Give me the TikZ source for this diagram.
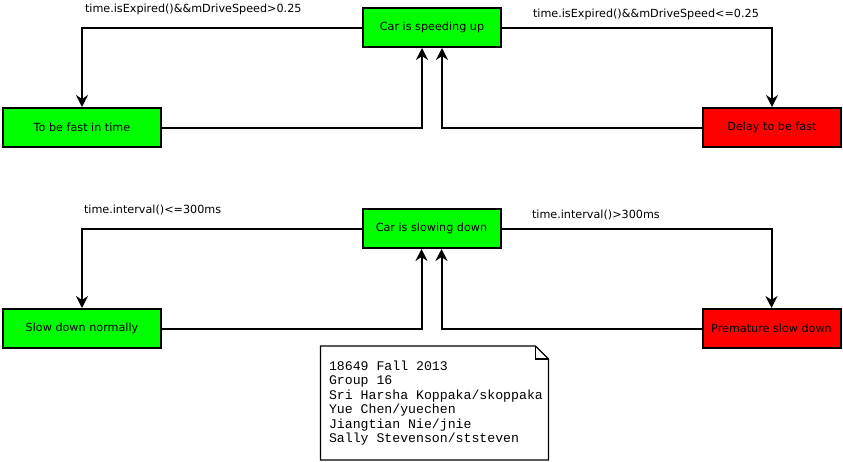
\documentclass[tikz,border=0pt]{standalone}
\usepackage{fontspec}
\setmainfont{DejaVu Sans}
\setmonofont{Liberation Mono}
\newcommand\blank{\hbox to 0.6em{}}
\usetikzlibrary{arrows.meta}
\begin{document}
\begin{tikzpicture}[
  x=1pt, y=-1pt,
  state/.style={draw, line width=2pt, minimum width=138pt, minimum height=39pt,
    inner sep=0pt, font=\fontsize{11.2}{13}\selectfont},
  go/.style={state, fill=green},
  wide/.style={minimum width=158pt},
  stop/.style={state, fill=red},
  lbl/.style={anchor=west, inner sep=0pt, font=\fontsize{11.2}{13}\selectfont},
  arr/.style={-{Stealth[length=12pt, width=12pt, inset=4pt]}},
  line width=2pt, line join=miter]
\useasboundingbox (0,0) rectangle (843,461);
% speeding up
\node [go] (speed) at (432,27.5) {Car is speeding up};
\node [go, wide] (fast) at (82,127.5) {To be fast in time};
\node [stop] (delay) at (772,127.5) {Delay to be fast};
\draw [arr] (speed.west) -| (fast.north);
\draw [arr] (speed.east) -| (delay.north);
\draw [arr] (fast.east) -| ([xshift=-10pt]speed.south);
\draw [arr] (delay.west) -| ([xshift=10pt]speed.south);
\node [lbl] (fastcond) at (84,9) {time.isExpired()\&\&mDriveSpeed>0.25};
\node [lbl] (delaycond) at (532,14.5) {time.isExpired()\&\&mDriveSpeed<=0.25};
% slowing down
\node [go] (slow) at (431.5,228.5) {Car is slowing down};
\node [go, wide] (normal) at (82,328.5) {Slow down normally};
\node [stop] (early) at (771.5,328.5) {Premature slow down};
\draw [arr] (slow.west) -| (normal.north);
\draw [arr] (slow.east) -| (early.north);
\draw [arr] (normal.east) -| ([xshift=-10pt]slow.south);
\draw [arr] (early.west) -| ([xshift=10pt]slow.south);
\node [lbl] (normalcond) at (83,210) {time.interval()<=300ms};
\node [lbl] (earlycond) at (531,215) {time.interval()>300ms};
% group note
\node [anchor=north west, minimum width=226pt, minimum height=112pt,
  inner xsep=7.5pt, inner ysep=0pt, text width=211pt, align=left,
  font=\ttfamily\fontsize{13.2}{14.4}\selectfont] (memo) at (320.5,346)
  {18649\blank Fall\blank 2013\\Group\blank 16\\
   Sri\blank Harsha\blank Koppaka/skoppaka\\Yue\blank Chen/yuechen\\
   Jiangtian\blank Nie/jnie\\Sally\blank Stevenson/ststeven};
\draw [line width=1.2pt] (memo.north west) -- ([xshift=-13pt]memo.north east) --
  ([yshift=-13pt]memo.north east) -- (memo.south east) -- (memo.south west) -- cycle;
\draw [line width=1.2pt] ([xshift=-13pt]memo.north east) --
  ([xshift=-13pt, yshift=-13pt]memo.north east) -- ([yshift=-13pt]memo.north east);
\end{tikzpicture}
\end{document}
